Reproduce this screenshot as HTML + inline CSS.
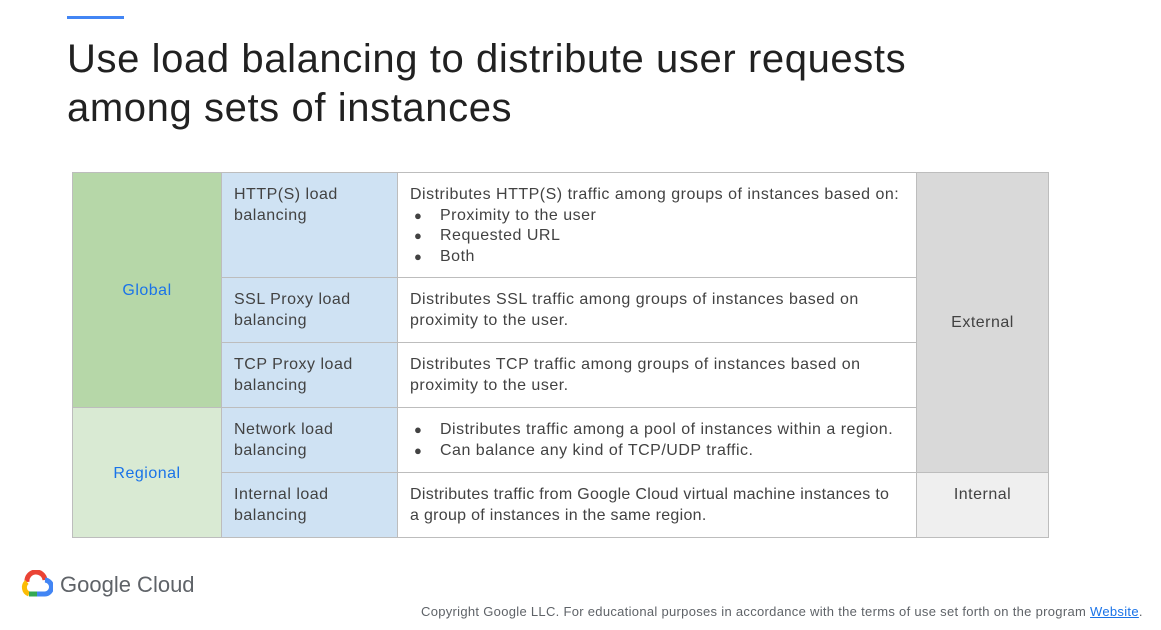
<!DOCTYPE html>
<html><head><style>
body{margin:0;width:1161px;height:630px;background:#fff;position:relative;overflow:hidden;font-family:"Liberation Sans",Arial,sans-serif;}
.a{position:absolute;box-sizing:border-box;}
.c{position:absolute;box-sizing:border-box;border:1px solid #bdbdbd;font-size:16px;letter-spacing:0.5px;color:#424242;line-height:20.5px;padding:12px 12px;white-space:nowrap}
ul{margin:0;padding:0 0 0 30px;list-style:none}
li{position:relative}
li:before{content:"●";position:absolute;left:-26px;font-size:13px}
</style></head><body>
<div class="a" style="left:67px;top:16px;width:57px;height:3px;background:#4285f4"></div>
<div class="a" style="left:67px;top:35px;font-size:40px;letter-spacing:0.6px;line-height:49px;color:#212121;white-space:nowrap">Use load balancing to distribute user requests<br>among sets of instances</div>

<div class="c" style="left:72px;top:172px;width:150px;height:236px;background:#b6d7a8;color:#1a73e8;text-align:center;padding-top:108px">Global</div>
<div class="c" style="left:72px;top:407px;width:150px;height:131px;background:#d9ead3;color:#1a73e8;text-align:center;padding-top:56px">Regional</div>

<div class="c" style="left:221px;top:172px;width:177px;height:106px;background:#cfe2f3">HTTP(S) load<br>balancing</div>
<div class="c" style="left:221px;top:277px;width:177px;height:66px;background:#cfe2f3">SSL Proxy load<br>balancing</div>
<div class="c" style="left:221px;top:342px;width:177px;height:66px;background:#cfe2f3">TCP Proxy load<br>balancing</div>
<div class="c" style="left:221px;top:407px;width:177px;height:66px;background:#cfe2f3">Network load<br>balancing</div>
<div class="c" style="left:221px;top:472px;width:177px;height:66px;background:#cfe2f3">Internal load<br>balancing</div>

<div class="c" style="left:397px;top:172px;width:520px;height:106px">Distributes HTTP(S) traffic among groups of instances based on:<ul><li>Proximity to the user</li><li>Requested URL</li><li>Both</li></ul></div>
<div class="c" style="left:397px;top:277px;width:520px;height:66px">Distributes SSL traffic among groups of instances based on<br>proximity to the user.</div>
<div class="c" style="left:397px;top:342px;width:520px;height:66px">Distributes TCP traffic among groups of instances based on<br>proximity to the user.</div>
<div class="c" style="left:397px;top:407px;width:520px;height:66px"><ul><li>Distributes traffic among a pool of instances within a region.</li><li>Can balance any kind of TCP/UDP traffic.</li></ul></div>
<div class="c" style="left:397px;top:472px;width:520px;height:66px;letter-spacing:0.3px">Distributes traffic from Google Cloud virtual machine instances to<br>a group of instances in the same region.</div>

<div class="c" style="left:916px;top:172px;width:133px;height:301px;background:#d9d9d9;text-align:center;padding-top:140px">External</div>
<div class="c" style="left:916px;top:472px;width:133px;height:66px;background:#efefef;text-align:center">Internal</div>

<svg class="a" style="left:19px;top:570px" width="34" height="28" viewBox="0 0 34 28">
<path d="M8 12 A9 9 0 0 1 26 10" stroke="#ea4335" stroke-width="5" fill="none"/>
<path d="M8 12 A7 7 0 0 0 10 24" stroke="#fbbc04" stroke-width="5" fill="none"/>
<path d="M10 24 H18" stroke="#34a853" stroke-width="5" fill="none"/>
<path d="M18 24 H25 A6 6 0 0 0 26 10" stroke="#4285f4" stroke-width="5" fill="none"/>
</svg>
<div class="a" style="left:60px;top:571px;font-size:22px;color:#5f6368;line-height:28px">Google Cloud</div>
<div class="a" style="left:421px;top:604px;font-size:13px;letter-spacing:0.3px;color:#5f6368;white-space:nowrap">Copyright Google LLC. For educational purposes in accordance with the terms of use set forth on the program <span style="color:#1a73e8;text-decoration:underline">Website</span>.</div>
</body></html>
